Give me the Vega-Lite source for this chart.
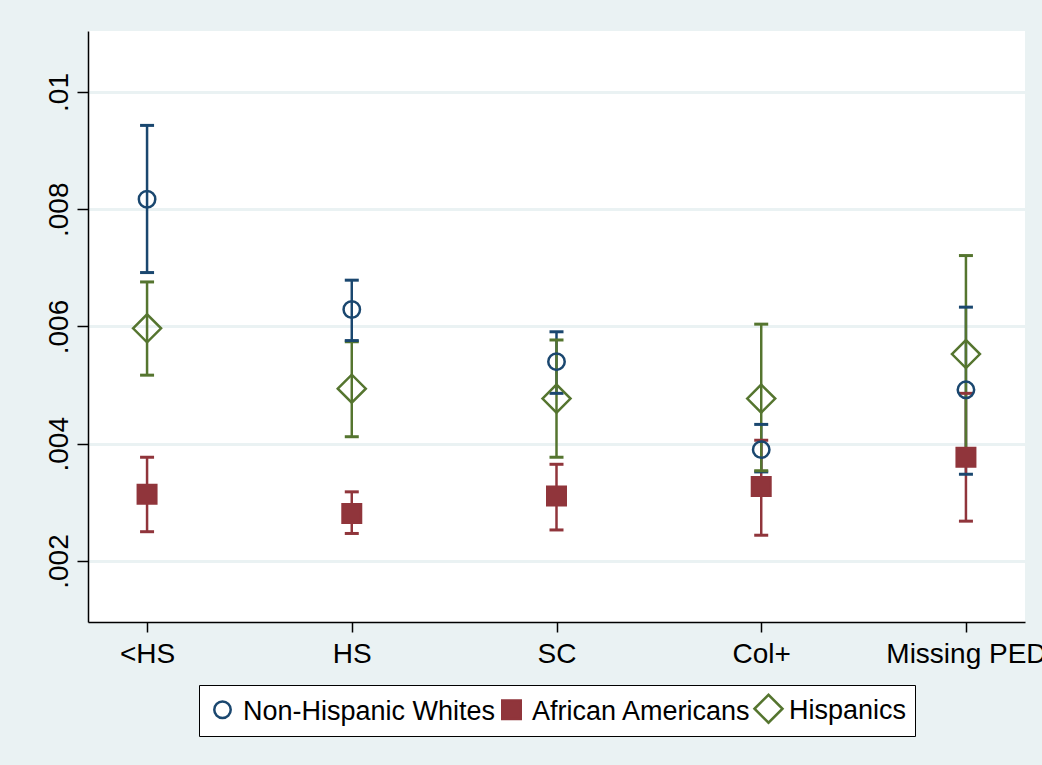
{
  "$schema": "https://vega.github.io/schema/vega-lite/v6.json",
  "width": 937,
  "height": 591,
  "autosize": {"type": "none"},
  "padding": {"left": 88, "top": 31, "right": 17, "bottom": 143},
  "background": "#eaf2f3",
  "config": {
    "view": {"fill": "white", "stroke": null},
    "font": "Liberation Sans"
  },
  "data": {
    "values": [
      {"edu": "<HS", "group": "Non-Hispanic Whites", "est": 0.00817, "lo": 0.00692, "hi": 0.00943},
      {"edu": "<HS", "group": "African Americans", "est": 0.00314, "lo": 0.00250, "hi": 0.00377},
      {"edu": "<HS", "group": "Hispanics", "est": 0.00597, "lo": 0.00517, "hi": 0.00676},
      {"edu": "HS", "group": "Non-Hispanic Whites", "est": 0.00629, "lo": 0.00576, "hi": 0.00679},
      {"edu": "HS", "group": "African Americans", "est": 0.00281, "lo": 0.00247, "hi": 0.00318},
      {"edu": "HS", "group": "Hispanics", "est": 0.00494, "lo": 0.00412, "hi": 0.00574},
      {"edu": "SC", "group": "Non-Hispanic Whites", "est": 0.00540, "lo": 0.00486, "hi": 0.00591},
      {"edu": "SC", "group": "African Americans", "est": 0.00311, "lo": 0.00253, "hi": 0.00365},
      {"edu": "SC", "group": "Hispanics", "est": 0.00477, "lo": 0.00377, "hi": 0.00577},
      {"edu": "Col+", "group": "Non-Hispanic Whites", "est": 0.00390, "lo": 0.00352, "hi": 0.00433},
      {"edu": "Col+", "group": "African Americans", "est": 0.00327, "lo": 0.00244, "hi": 0.00406},
      {"edu": "Col+", "group": "Hispanics", "est": 0.00477, "lo": 0.00354, "hi": 0.00604},
      {"edu": "Missing PED", "group": "Non-Hispanic Whites", "est": 0.00492, "lo": 0.00348, "hi": 0.00633},
      {"edu": "Missing PED", "group": "African Americans", "est": 0.00377, "lo": 0.00268, "hi": 0.00486},
      {"edu": "Missing PED", "group": "Hispanics", "est": 0.00553, "lo": 0.00385, "hi": 0.00721}
    ]
  },
  "encoding": {
    "x": {
      "field": "edu",
      "type": "nominal",
      "sort": ["<HS", "HS", "SC", "Col+", "Missing PED"],
      "scale": {"type": "point", "padding": 0.2885},
      "axis": {
        "title": null,
        "labelAngle": 0,
        "labelFontSize": 28,
        "labelColor": "black",
        "labelPadding": 8,
        "domainColor": "black",
        "domainWidth": 1.5,
        "tickColor": "black",
        "tickWidth": 1.5,
        "tickSize": 10,
        "grid": false
      }
    },
    "stroke": {
      "field": "group",
      "type": "nominal",
      "scale": {
        "domain": ["Non-Hispanic Whites", "African Americans", "Hispanics"],
        "range": ["#1a476f", "#90353b", "#55752f"]
      },
      "legend": {
        "orient": "none",
        "legendX": 111,
        "legendY": 654,
        "direction": "horizontal",
        "columns": 3,
        "title": null,
        "labelFontSize": 27,
        "labelColor": "black",
        "labelLimit": 0,
        "labelBaseline": "middle",
        "fillColor": "white",
        "strokeColor": "black",
        "padding": 8,
        "columnPadding": -3,
        "labelOffset": 5,
        "symbolStrokeWidth": 2.5,
        "encode": {
          "symbols": {
            "update": {
              "size": {"signal": "datum.value === 'Non-Hispanic Whites' ? 115 : datum.value === 'African Americans' ? 380 : 784"}
            }
          },
          "labels": {
            "update": {
              "dy": {"value": 2}
            }
          }
        }
      }
    }
  },
  "layer": [
    {
      "mark": {"type": "rule", "strokeWidth": 2.5},
      "encoding": {
        "y": {
          "field": "lo",
          "type": "quantitative",
          "scale": {"domain": [0.00096, 0.01104], "nice": false, "zero": false},
          "axis": {
            "title": null,
            "values": [0.002, 0.004, 0.006, 0.008, 0.01],
            "labelExpr": "replace(format(datum.value, '.3~f'), '0.', '.')",
            "labelAngle": 270,
            "labelFontSize": 28,
            "labelColor": "black",
            "labelPadding": 4,
            "domainColor": "black",
            "domainWidth": 1.5,
            "tickColor": "black",
            "tickWidth": 1.5,
            "tickSize": 11,
            "grid": true,
            "gridColor": "#eaf2f3",
            "gridWidth": 3
          }
        },
        "y2": {"field": "hi"}
      }
    },
    {
      "mark": {"type": "point", "shape": "M-1,0L1,0", "size": 196, "strokeWidth": 3, "opacity": 1, "filled": false},
      "encoding": {
        "y": {"field": "hi", "type": "quantitative"}
      }
    },
    {
      "mark": {"type": "point", "shape": "M-1,0L1,0", "size": 196, "strokeWidth": 3, "opacity": 1, "filled": false},
      "encoding": {
        "y": {"field": "lo", "type": "quantitative"}
      }
    },
    {
      "mark": {"type": "point", "filled": false, "strokeWidth": 2.5, "opacity": 1},
      "encoding": {
        "y": {"field": "est", "type": "quantitative"},
        "fill": {
          "field": "group",
          "type": "nominal",
          "scale": {
            "domain": ["Non-Hispanic Whites", "African Americans", "Hispanics"],
            "range": ["transparent", "#90353b", "transparent"]
          }
        },
        "shape": {
          "field": "group",
          "type": "nominal",
          "scale": {
            "domain": ["Non-Hispanic Whites", "African Americans", "Hispanics"],
            "range": ["circle", "square", "diamond"]
          }
        },
        "size": {
          "field": "group",
          "type": "nominal",
          "scale": {
            "type": "ordinal",
            "domain": ["Non-Hispanic Whites", "African Americans", "Hispanics"],
            "range": [270, 342, 784]
          }
        }
      }
    }
  ]
}
